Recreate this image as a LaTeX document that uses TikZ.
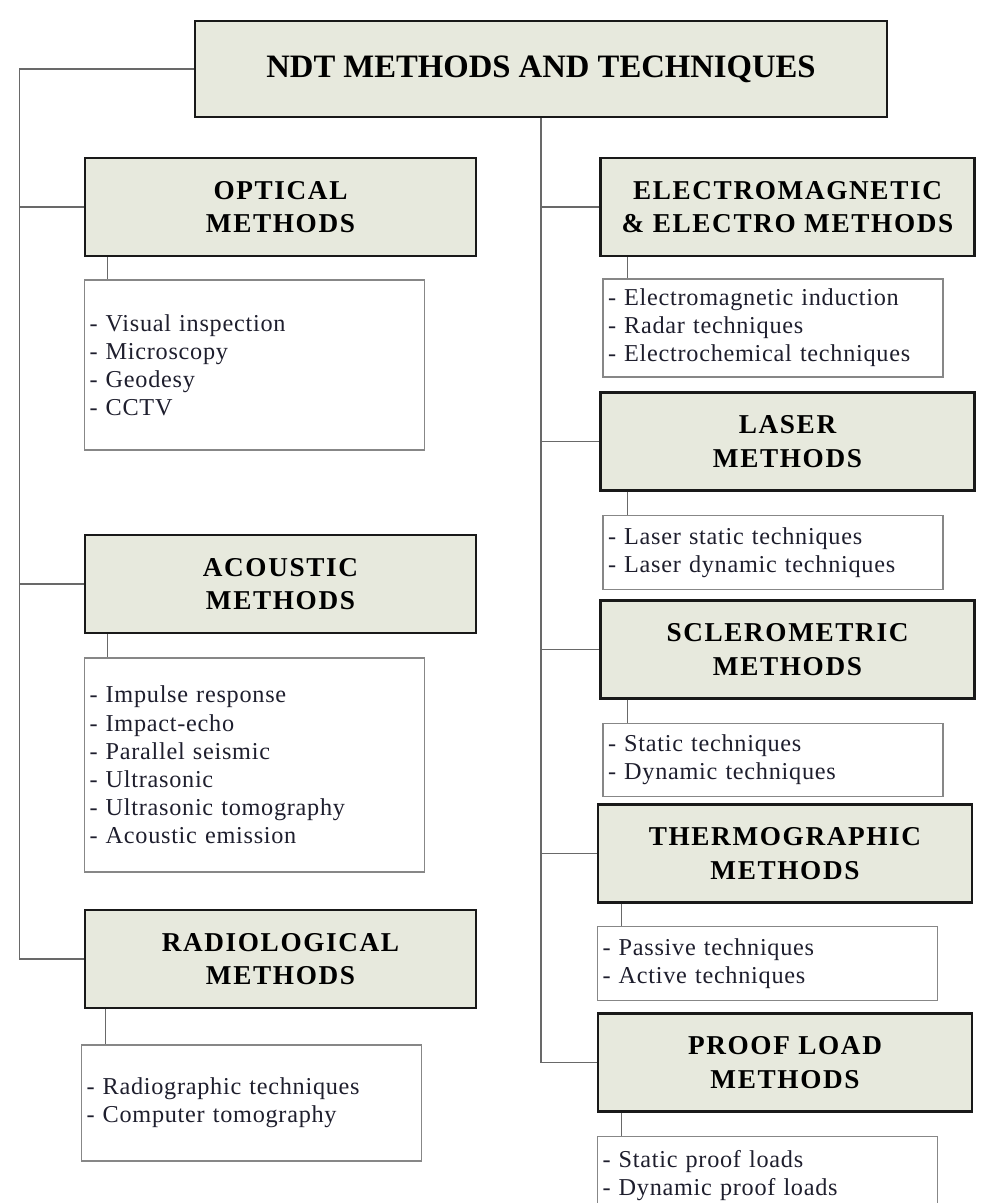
\documentclass[tikz,border=0pt]{standalone}
\usepackage{fontspec}
\setmainfont{Liberation Serif}
\newfontfamily\headfont[LetterSpace=6]{Liberation Serif}
\newfontfamily\itemfont[LetterSpace=3]{Liberation Serif}
\usetikzlibrary{positioning}
\definecolor{HeadFill}{RGB}{231, 233, 221}
\definecolor{FrameColor}{RGB}{25, 25, 25}
\definecolor{ListFrame}{RGB}{135, 135, 135}
\definecolor{LinkColor}{RGB}{105, 105, 105}
\definecolor{ItemText}{RGB}{30, 30, 45}
\tikzset{
    rootbox/.style={
        draw=FrameColor,
        line width=1.4pt,
        fill=HeadFill,
        minimum width=13.84cm,
        minimum height=1.92cm,
        inner sep=0pt,
        font=\fontsize{18.6}{22}\selectfont\bfseries
    },
    method/.style={
        draw=FrameColor,
        line width=1.4pt,
        fill=HeadFill,
        minimum height=1.96cm,
        align=center,
        inner sep=0pt,
        font=\headfont\fontsize{15.5}{19}\selectfont\bfseries
    },
    leftmethod/.style={method, minimum width=7.82cm},
    rightmethod/.style={method, minimum width=7.48cm},
    techlist/.style={
        draw=ListFrame,
        line width=0.85pt,
        fill=white,
        text width=6.6cm,
        inner xsep=0.1cm,
        inner ysep=0pt,
        align=left,
        text=ItemText,
        font=\itemfont\fontsize{13.8}{16}\selectfont
    },
    link/.style={draw=LinkColor, line width=0.8pt}
}

\begin{document}
\begin{tikzpicture}

    \useasboundingbox (0,0) rectangle (20.02,-24.06);
    \clip (0,0) rectangle (20.02,-24.06);

    % ============================================================================
    % ROOT
    % ============================================================================

    \node[rootbox] (NDT) at (10.82,-1.38) {NDT METHODS AND TECHNIQUES};

    % ============================================================================
    % LEFT COLUMN
    % ============================================================================

    % Optical
    \node[leftmethod] (Optical) at (5.61,-4.14) {OPTICAL\\METHODS};
    \node[techlist, minimum height=3.4cm, below=0.44cm of Optical.south west, anchor=north west] (OpticalList) {
        - Visual inspection\\
        - Microscopy\\
        - Geodesy\\
        - CCTV
    };

    % Acoustic
    \node[leftmethod] (Acoustic) at (5.61,-11.68) {ACOUSTIC\\METHODS};
    \node[techlist, minimum height=4.28cm, below=0.46cm of Acoustic.south west, anchor=north west] (AcousticList) {
        - Impulse response\\
        - Impact-echo\\
        - Parallel seismic\\
        - Ultrasonic\\
        - Ultrasonic tomography\\
        - Acoustic emission
    };

    % Radiological
    \node[leftmethod] (Radio) at (5.61,-19.18) {RADIOLOGICAL\\METHODS};
    \node[techlist, minimum height=2.32cm, below=0.7cm of Radio.south west, anchor=north west, xshift=-0.06cm] (RadioList) {
        - Radiographic techniques\\
        - Computer tomography
    };

    % ============================================================================
    % RIGHT COLUMN
    % ============================================================================

    % Electromagnetic
    \node[rightmethod] (EM) at (15.75,-4.14) {ELECTROMAGNETIC\\\& ELECTRO METHODS};
    \node[techlist, minimum height=1.96cm, below=0.42cm of EM.south west, anchor=north west, xshift=0.06cm] (EMList) {
        - Electromagnetic induction\\
        - Radar techniques\\
        - Electrochemical techniques
    };

    % Laser
    \node[rightmethod] (Laser) at (15.75,-8.83) {LASER\\METHODS};
    \node[techlist, minimum height=1.48cm, below=0.46cm of Laser.south west, anchor=north west, xshift=0.06cm] (LaserList) {
        - Laser static techniques\\
        - Laser dynamic techniques
    };

    % Sclerometric
    \node[rightmethod] (Sclero) at (15.75,-12.99) {SCLEROMETRIC\\METHODS};
    \node[techlist, minimum height=1.46cm, below=0.46cm of Sclero.south west, anchor=north west, xshift=0.06cm] (ScleroList) {
        - Static techniques\\
        - Dynamic techniques
    };

    % Thermographic
    \node[rightmethod] (Thermo) at (15.70,-17.07) {THERMOGRAPHIC\\METHODS};
    \node[techlist, minimum height=1.48cm, below=0.44cm of Thermo.south west, anchor=north west] (ThermoList) {
        - Passive techniques\\
        - Active techniques
    };

    % Proof load (list runs off the bottom edge)
    \node[rightmethod] (Proof) at (15.70,-21.25) {PROOF LOAD\\METHODS};
    \node[techlist, minimum height=1.56cm, below=0.46cm of Proof.south west, anchor=north west] (ProofList) {
        - Static proof loads\\
        - Dynamic proof loads
    };

    % ============================================================================
    % CONNECTORS
    % ============================================================================

    % Left rail
    \coordinate (LeftRail) at (0.39,-1.38);
    \draw[link] (NDT.west) -- (LeftRail) -- (LeftRail |- Radio.west) -- (Radio.west);
    \draw[link] (LeftRail |- Optical.west) -- (Optical.west);
    \draw[link] (LeftRail |- Acoustic.west) -- (Acoustic.west);

    % Right rail
    \draw[link] (NDT.south) -- (NDT.south |- Proof.west) -- (Proof.west);
    \draw[link] (NDT.south |- EM.west) -- (EM.west);
    \draw[link] (NDT.south |- Laser.west) -- (Laser.west);
    \draw[link] (NDT.south |- Sclero.west) -- (Sclero.west);
    \draw[link] (NDT.south |- Thermo.west) -- (Thermo.west);

    % Method to list
    \draw[link] ([xshift=0.48cm]Optical.south west) -- ([xshift=0.48cm]Optical.south west |- OpticalList.north);
    \draw[link] ([xshift=0.48cm]Acoustic.south west) -- ([xshift=0.48cm]Acoustic.south west |- AcousticList.north);
    \draw[link] ([xshift=0.44cm]Radio.south west) -- ([xshift=0.44cm]Radio.south west |- RadioList.north);
    \draw[link] ([xshift=0.56cm]EM.south west) -- ([xshift=0.56cm]EM.south west |- EMList.north);
    \draw[link] ([xshift=0.56cm]Laser.south west) -- ([xshift=0.56cm]Laser.south west |- LaserList.north);
    \draw[link] ([xshift=0.56cm]Sclero.south west) -- ([xshift=0.56cm]Sclero.south west |- ScleroList.north);
    \draw[link] ([xshift=0.5cm]Thermo.south west) -- ([xshift=0.5cm]Thermo.south west |- ThermoList.north);
    \draw[link] ([xshift=0.5cm]Proof.south west) -- ([xshift=0.5cm]Proof.south west |- ProofList.north);

\end{tikzpicture}
\end{document}
